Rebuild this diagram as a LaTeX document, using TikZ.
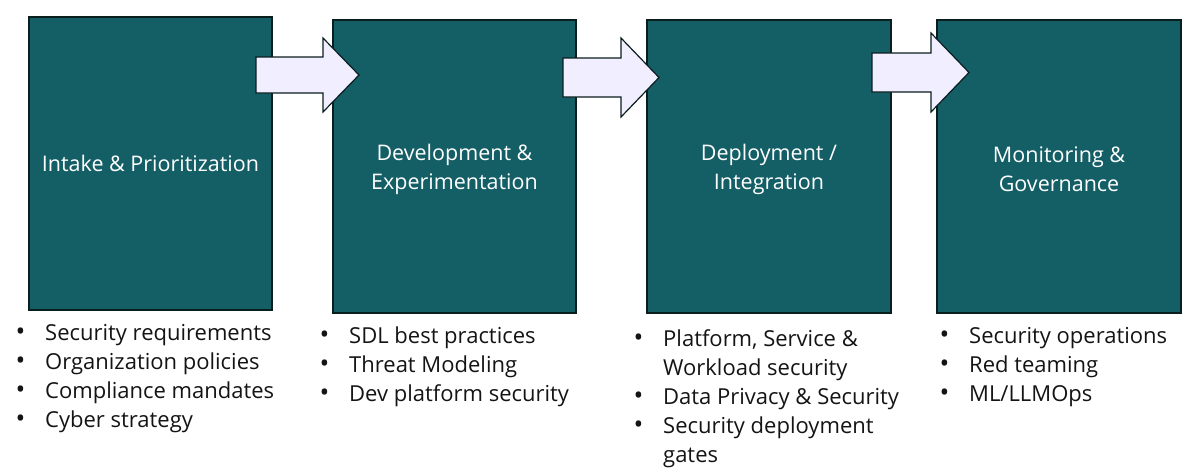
\documentclass[tikz,border=0pt]{standalone}
\usepackage{fontspec}
\setmainfont{Open Sans}
\definecolor{boxteal}{RGB}{20,94,102}
\definecolor{arrowfill}{RGB}{240,238,255}
\definecolor{edge}{RGB}{10,30,30}
\definecolor{txt}{RGB}{20,20,20}
\tikzset{
  stage/.style={draw=edge, line width=1.2pt, fill=boxteal},
  blockarrow/.style={draw=edge, line width=1.2pt, fill=arrowfill, line join=miter},
  title/.style={text=white, align=center, inner sep=0pt, font=\fontsize{21.5}{29}\selectfont},
  bullets/.style={text=txt, inner sep=0pt, anchor=north west, font=\fontsize{22}{29}\selectfont}
}
\newcommand{\bul}{\makebox[29.5pt][l]{\fontsize{26}{29}\selectfont •}}
\begin{document}
\begin{tikzpicture}[x=1pt,y=-1pt]
\useasboundingbox (0,0) rectangle (1204,475);
% boxes
\draw[stage] (29,17) rectangle (272,310);
\draw[stage] (333,20) rectangle (576,313);
\draw[stage] (647,20) rectangle (891,313);
\draw[stage] (937,20) rectangle (1181,313);
% arrows
\draw[blockarrow] (256,57) -- (323,57) -- (323,38) -- (359,75) -- (323,112) -- (323,93) -- (256,93) -- cycle;
\draw[blockarrow] (563,58) -- (621,58) -- (621,38) -- (659,77.5) -- (621,117) -- (621,97) -- (563,97) -- cycle;
\draw[blockarrow] (872,53) -- (931,53) -- (931,33) -- (969,72.5) -- (931,112) -- (931,92) -- (872,92) -- cycle;
% titles
\node[title] (t1) at (150.5,163) {Intake \& Prioritization};
\node[title] (t2) at (454.5,169) {Development \&\\Experimentation};
\node[title] (t3) at (769,169) {Deployment /\\Integration};
\node[title] (t4) at (1059,169) {Monitoring \&\\Governance};
% lists
\node[bullets] (l1) at (15.5,319.5) {\begin{tabular}{@{}l@{}l@{}}
\bul & Security requirements\\
\bul & Organization policies\\
\bul & Compliance mandates\\
\bul & Cyber strategy
\end{tabular}};
\node[bullets] (l2) at (319.5,322.5) {\begin{tabular}{@{}l@{}l@{}}
\bul & SDL best practices\\
\bul & Threat Modeling\\
\bul & Dev platform security
\end{tabular}};
\node[bullets] (l3) at (633.5,325.5) {\begin{tabular}{@{}l@{}l@{}}
\bul & Platform, Service \&\\
 & Workload security\\
\bul & Data Privacy \& Security\\
\bul & Security deployment\\
 & gates
\end{tabular}};
\node[bullets] (l4) at (939.5,322.5) {\begin{tabular}{@{}l@{}l@{}}
\bul & Security operations\\
\bul & Red teaming\\
\bul & ML/LLMOps
\end{tabular}};
\end{tikzpicture}
\end{document}
